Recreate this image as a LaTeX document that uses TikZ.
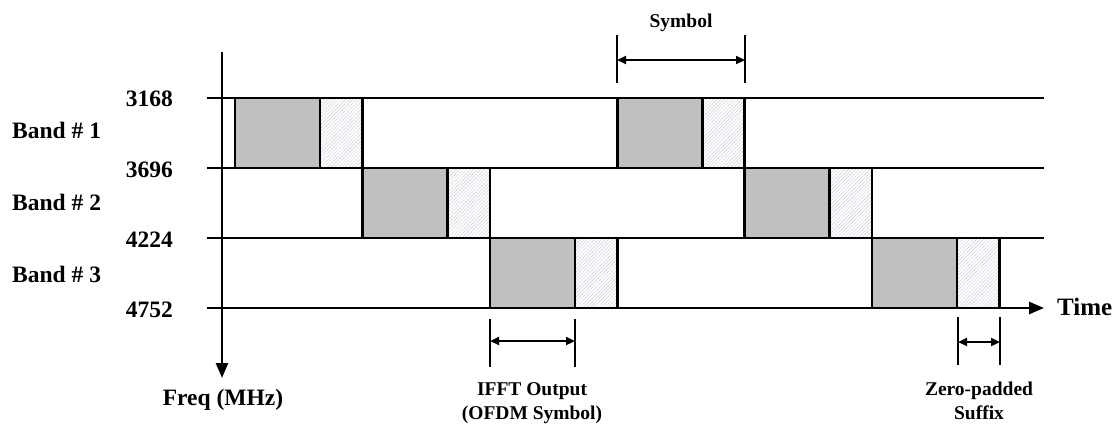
\documentclass[tikz,border=0pt]{standalone}
\usepackage{fontspec}
\setmainfont{Liberation Serif}
\usetikzlibrary{arrows.meta,patterns.meta}
\definecolor{symgray}{HTML}{C0C0C0}
\definecolor{hatchcol}{HTML}{C4CAD4}
\begin{document}
\begin{tikzpicture}[x=1pt,y=-1pt,
  ln/.style={line width=2.6pt},
  symbox/.style={ln, fill=symgray},
  zpbox/.style={ln, pattern={Lines[angle=45,distance=2.5pt,line width=0.45pt]}, pattern color=hatchcol},
  big/.style={font=\bfseries\fontsize{23.5}{28}\selectfont, inner sep=0pt},
  small/.style={font=\bfseries\fontsize{19.5}{24}\selectfont, inner sep=0pt},
  dimline/.style={line width=2.2pt, {Triangle[length=9pt,width=8pt]}-{Triangle[length=9pt,width=8pt]}},
  bar/.style={line width=2.4pt},
  axarrow/.style={ln, -{Triangle[length=15pt,width=12pt]}}
]
\useasboundingbox (0,0) rectangle (1114,424);

% symbol boxes: (band top y, start x)
\foreach \y/\x in {98/235, 168/362.4, 238/489.8, 98/617.2, 168/744.6, 238/872}{
  \draw[symbox] (\x,\y) rectangle ({\x+85},{\y+70});
  \draw[zpbox] ({\x+85},\y) rectangle ({\x+127.4},{\y+70});
}

% frequency lines
\coordinate (l1a) at (207,98);  \coordinate (l1b) at (1044,98);
\coordinate (l2a) at (207,168); \coordinate (l2b) at (1044,168);
\coordinate (l3a) at (207,238); \coordinate (l3b) at (1044,238);
\coordinate (l4a) at (207,308); \coordinate (l4b) at (1044,308);
\draw[ln] (l1a) -- (l1b);
\draw[ln] (l2a) -- (l2b);
\draw[ln] (l3a) -- (l3b);
\draw[axarrow] (l4a) -- (l4b);

% frequency axis
\coordinate (ftop) at (222,52);
\coordinate (fbot) at (222,378);
\draw[axarrow] (ftop) -- (fbot);

% labels
\node[big, anchor=base east] (f1) at (173,106) {3168};
\node[big, anchor=base east] (f2) at (173,177) {3696};
\node[big, anchor=base east] (f3) at (173,247) {4224};
\node[big, anchor=base east] (f4) at (173,317) {4752};
\node[big, anchor=base west] (b1) at (12,138) {Band \# 1};
\node[big, anchor=base west] (b2) at (12,210) {Band \# 2};
\node[big, anchor=base west] (b3) at (12,282) {Band \# 3};
\node[big, anchor=base] (freq) at (223,405) {Freq (MHz)};
\node[big, font=\bfseries\fontsize{25}{30}\selectfont, anchor=base west] (time) at (1057,315) {Time};

% Symbol dimension
\coordinate (sA1) at (617,35); \coordinate (sA2) at (617,83);
\coordinate (sB1) at (745,35); \coordinate (sB2) at (745,83);
\coordinate (sL) at (617,60); \coordinate (sR) at (745,60);
\draw[bar] (sA1) -- (sA2);
\draw[bar] (sB1) -- (sB2);
\draw[dimline] (sL) -- (sR);
\node[small, anchor=base] (symlab) at (681,27) {Symbol};

% IFFT dimension
\coordinate (iA1) at (490,319); \coordinate (iA2) at (490,367);
\coordinate (iB1) at (575,319); \coordinate (iB2) at (575,367);
\coordinate (iL) at (490,341); \coordinate (iR) at (575,341);
\draw[bar] (iA1) -- (iA2);
\draw[bar] (iB1) -- (iB2);
\draw[dimline] (iL) -- (iR);
\node[small, anchor=base] (ifftlab1) at (532,395) {IFFT Output};
\node[small, anchor=base] (ifftlab2) at (532,419) {(OFDM Symbol)};

% Zero-padded dimension
\coordinate (zA1) at (958,317); \coordinate (zA2) at (958,365);
\coordinate (zB1) at (1000,317); \coordinate (zB2) at (1000,365);
\coordinate (zL) at (958,342); \coordinate (zR) at (1000,342);
\draw[bar] (zA1) -- (zA2);
\draw[bar] (zB1) -- (zB2);
\draw[dimline] (zL) -- (zR);
\node[small, anchor=base] (zplab1) at (979,395) {Zero-padded};
\node[small, anchor=base] (zplab2) at (979,419) {Suffix};
\end{tikzpicture}
\end{document}
